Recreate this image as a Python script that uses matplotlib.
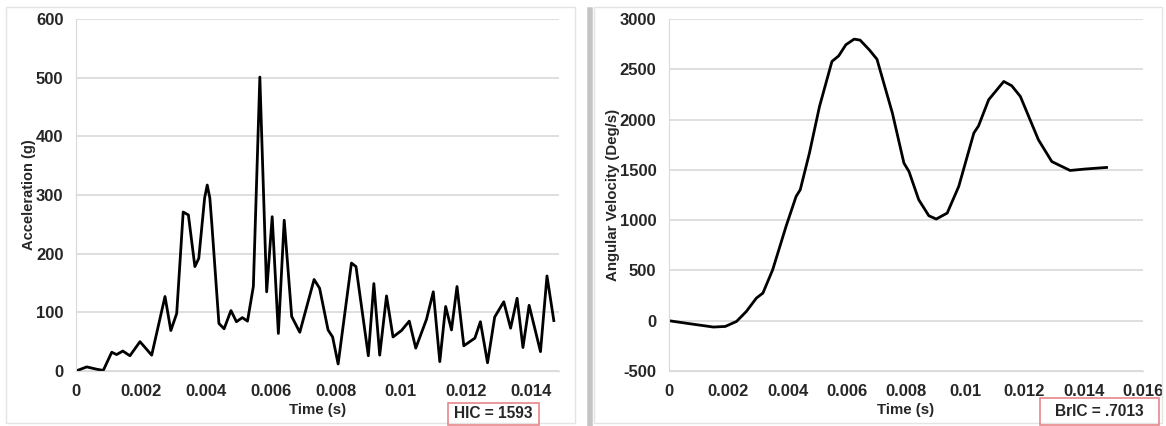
import matplotlib
matplotlib.use("Agg")
import matplotlib.pyplot as plt
from matplotlib.lines import Line2D
from matplotlib.patches import Rectangle
from matplotlib.ticker import FuncFormatter

plt.rcParams["axes.unicode_minus"] = False

# head acceleration trace (left)
acc_time = [0, 0.00033, 0.00064, 0.00084, 0.0011, 0.00125, 0.00144, 0.00166,
            0.00197, 0.00233, 0.00274, 0.00292, 0.0031, 0.0033, 0.00346,
            0.00366, 0.00378, 0.00396, 0.00404, 0.00412, 0.00418, 0.0044,
            0.00456, 0.00477, 0.00494, 0.00512, 0.00528, 0.00546, 0.00566,
            0.00587, 0.00604, 0.00623, 0.00641, 0.00664, 0.00689, 0.00733,
            0.0075, 0.00776, 0.0079, 0.00807, 0.00848, 0.00862, 0.009,
            0.00917, 0.00935, 0.00956, 0.00976, 0.01002, 0.01026, 0.01046,
            0.01079, 0.011, 0.0112, 0.01138, 0.01156, 0.01173, 0.01194,
            0.01228, 0.01245, 0.01267, 0.01289, 0.01317, 0.01338, 0.01358,
            0.01376, 0.01395, 0.0143, 0.0145, 0.01471]
acc_g = [0, 7, 3, 1, 32, 28, 34, 26, 50, 27, 127, 69, 98, 271, 266, 178, 192,
         295, 317, 295, 252, 81, 72, 103, 84, 91, 85, 144, 501, 135, 263, 64,
         257, 93, 66, 156, 141, 70, 58, 12, 184, 178, 26, 149, 27, 128, 58, 69,
         85, 39, 88, 135, 16, 110, 70, 144, 43, 56, 84, 14, 92, 118, 73, 124,
         40, 112, 33, 162, 86]

# angular velocity trace (right)
vel_time = [0, 0.0007, 0.0015, 0.0019, 0.00228, 0.00261, 0.00295, 0.00317,
            0.0035, 0.00395, 0.00429, 0.00443, 0.00474, 0.00508, 0.0055,
            0.00573, 0.00597, 0.00625, 0.00645, 0.00676, 0.00702, 0.00754,
            0.00793, 0.0081, 0.00843, 0.00877, 0.00902, 0.00939, 0.00978,
            0.01029, 0.01045, 0.01079, 0.0113, 0.01157, 0.01186, 0.01247,
            0.01292, 0.01314, 0.01354, 0.01404, 0.01477]
vel_deg = [0, -30, -63, -57, -7, 92, 225, 275, 507, 937, 1236, 1302, 1667,
           2130, 2578, 2634, 2744, 2800, 2790, 2694, 2600, 2065, 1567, 1484,
           1203, 1044, 1011, 1070, 1335, 1866, 1938, 2197, 2379, 2336, 2230,
           1799, 1583, 1551, 1494, 1508, 1524]

acc_ticks = [0, 0.002, 0.004, 0.006, 0.008, 0.01, 0.012, 0.014]
vel_ticks = [0, 0.002, 0.004, 0.006, 0.008, 0.01, 0.012, 0.014, 0.016]

FONT = "Liberation Sans"
TXT = "#262626"
GRID = "#d9d9d9"
W, H = 1166, 426


def fx(px):
    return px / W


def fy(py):
    return 1 - py / H


def style_axis(ax):
    for side in ("top", "right"):
        ax.spines[side].set_visible(False)
    ax.spines["left"].set_color(GRID)
    ax.spines["bottom"].set_color(GRID)
    ax.grid(axis="y", color=GRID, linewidth=1.2)
    ax.set_axisbelow(True)
    ax.tick_params(length=0, pad=9, labelsize=12, labelcolor=TXT)
    for lab in ax.get_xticklabels() + ax.get_yticklabels():
        lab.set_fontweight("bold")
        lab.set_fontfamily(FONT)
    ax.xaxis.set_major_formatter(FuncFormatter(lambda v, p: f"{v:g}"))


def note_box(fig, text, x0, y0, x1, y1):
    fig.add_artist(Rectangle((fx(x0), fy(y1)), fx(x1) - fx(x0), fy(y0) - fy(y1),
                             transform=fig.transFigure, fill=False,
                             edgecolor="#e8868a", linewidth=1.2))
    fig.text(fx((x0 + x1) / 2), fy((y0 + y1) / 2), text, ha="center", va="center",
             fontsize=11.2, fontweight="bold", family=FONT, color=TXT)


fig = plt.figure(figsize=(W / 100, H / 100), dpi=100)

# panel frames like two pasted Excel charts
for x0, x1 in ((6, 575), (594, 1162)):
    fig.add_artist(Rectangle((fx(x0), fy(423)), fx(x1) - fx(x0), fy(7) - fy(423),
                             transform=fig.transFigure, fill=False,
                             edgecolor="#e4e4e4", linewidth=1))
fig.add_artist(Line2D([fx(589.5), fx(589.5)], [fy(10), fy(426)],
                      transform=fig.transFigure, color="#c4c4c4", linewidth=4))

ax1 = fig.add_axes([fx(76), fy(371), fx(559) - fx(76), fy(19) - fy(371)])
ax1.plot(acc_time, acc_g, color="black", linewidth=2.0, solid_joinstyle="round")
ax1.set_xlim(0, 0.01487)
ax1.set_ylim(0, 600)
ax1.set_xticks(acc_ticks)
ax1.set_yticks(range(0, 601, 100))
style_axis(ax1)
ax1.set_xlabel("Time (s)", fontsize=10.8, fontweight="bold", family=FONT,
               color=TXT, labelpad=3)
ax1.set_ylabel("Acceleration (g)", fontsize=10.5, fontweight="bold", family=FONT,
               color=TXT, labelpad=0)

ax2 = fig.add_axes([fx(669), fy(371), fx(1143) - fx(669), fy(19) - fy(371)])
ax2.plot(vel_time, vel_deg, color="black", linewidth=2.0, solid_joinstyle="round")
ax2.set_xlim(0, 0.016)
ax2.set_ylim(-500, 3000)
ax2.set_xticks(vel_ticks)
ax2.set_yticks(range(-500, 3001, 500))
style_axis(ax2)
ax2.set_xlabel("Time (s)", fontsize=10.8, fontweight="bold", family=FONT,
               color=TXT, labelpad=3)
ax2.set_ylabel("Angular Velocity (Deg/s)", fontsize=10.8, fontweight="bold",
               family=FONT, color=TXT, labelpad=0)

note_box(fig, "HIC = 1593", 448, 403, 539, 425)
note_box(fig, "BrIC = .7013", 1040, 398, 1159, 425)

fig.savefig("out.png", dpi=100)
